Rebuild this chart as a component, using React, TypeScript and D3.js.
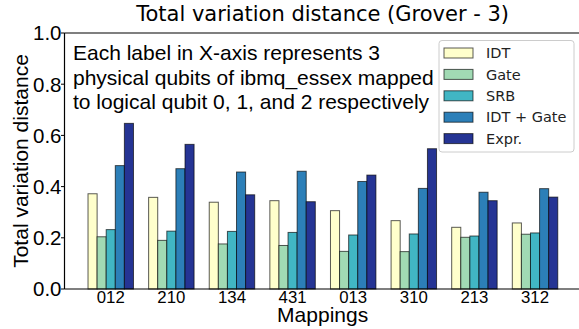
import React, { useEffect, useRef } from "react";
import * as d3 from "d3";

const mappings = ["012", "210", "134", "431", "013", "310", "213", "312"];
const seriesNames = ["IDT", "Gate", "SRB", "IDT + Gate", "Expr."];
const colors = ["#ffffcc", "#a1dab4", "#41b6c4", "#2c7fb8", "#253494"];

const idt = [0.372, 0.358, 0.339, 0.345, 0.306, 0.267, 0.241, 0.258];
const gate = [0.204, 0.19, 0.176, 0.17, 0.147, 0.146, 0.202, 0.214];
const srb = [0.232, 0.226, 0.225, 0.221, 0.211, 0.215, 0.207, 0.219];
const idtGate = [0.482, 0.47, 0.457, 0.46, 0.42, 0.393, 0.378, 0.392];
const expr = [0.647, 0.565, 0.368, 0.341, 0.445, 0.548, 0.345, 0.359];

const yTicks = [0, 0.2, 0.4, 0.6, 0.8, 1.0];

const note = [
  "Each label in X-axis represents 3",
  "physical qubits of ibmq_essex mapped",
  "to logical qubit 0, 1, and 2 respectively",
];

const W = 579;
const H = 329;
const arial = "'Liberation Sans', Arial, sans-serif";
const dejavu = "'DejaVu Sans', sans-serif";

const App = () => {
  const ref = useRef<SVGSVGElement>(null);

  useEffect(() => {
    document.body.style.margin = "0";
    const svg = d3.select(ref.current);
    svg.selectAll("*").remove();

    const left = 64.5;
    const top = 33;
    const bottom = 289;
    const right = 580.8;

    const x = d3.scaleLinear().domain([-0.763, 7.755]).range([left, right]);
    const y = d3.scaleLinear().domain([0, 1]).range([bottom, top]);
    const barW = 0.15;

    const series = [idt, gate, srb, idtGate, expr];

    // bars, five per mapping
    series.forEach((vals, s) => {
      svg
        .append("g")
        .selectAll("rect")
        .data(vals)
        .enter()
        .append("rect")
        .attr("x", (d, i) => x(i + (s - 2.5) * barW))
        .attr("y", (d) => y(d))
        .attr("width", x(barW) - x(0))
        .attr("height", (d) => y(0) - y(d))
        .attr("fill", colors[s])
        .attr("stroke", "#000")
        .attr("stroke-opacity", 0.65)
        .attr("stroke-width", 1);
    });

    // spines
    svg.append("line").attr("x1", left).attr("x2", left).attr("y1", top).attr("y2", bottom)
      .attr("stroke", "#000").attr("stroke-width", 1.2);
    svg.append("line").attr("x1", left).attr("x2", W).attr("y1", top).attr("y2", top)
      .attr("stroke", "#000").attr("stroke-width", 1.2);
    svg.append("line").attr("x1", left).attr("x2", W).attr("y1", bottom).attr("y2", bottom)
      .attr("stroke", "#000").attr("stroke-width", 1.2);

    // y ticks
    const yg = svg.append("g");
    yTicks.forEach((t) => {
      yg.append("line").attr("x1", left - 3.5).attr("x2", left).attr("y1", y(t)).attr("y2", y(t))
        .attr("stroke", "#000").attr("stroke-width", 1);
      yg.append("text")
        .attr("x", left - 3)
        .attr("y", y(t))
        .attr("dy", "0.36em")
        .attr("text-anchor", "end")
        .attr("font-family", arial)
        .attr("font-size", 20.5)
        .text(t.toFixed(1));
    });

    // x tick labels
    svg.append("g").selectAll("text")
      .data(mappings)
      .enter()
      .append("text")
      .attr("x", (d, i) => x(i))
      .attr("y", 303)
      .attr("text-anchor", "middle")
      .attr("font-family", arial)
      .attr("font-size", 16.8)
      .text((d) => d);

    // axis labels
    svg.append("text")
      .attr("x", (left + right) / 2)
      .attr("y", 322)
      .attr("text-anchor", "middle")
      .attr("font-family", arial)
      .attr("font-size", 21)
      .text("Mappings");

    svg.append("text")
      .attr("transform", `translate(27.5,${(top + bottom) / 2}) rotate(-90)`)
      .attr("text-anchor", "middle")
      .attr("font-family", arial)
      .attr("font-size", 21)
      .text("Total variation distance");

    // title
    svg.append("text")
      .attr("x", (left + right) / 2)
      .attr("y", 21)
      .attr("text-anchor", "middle")
      .attr("font-family", dejavu)
      .attr("font-size", 21)
      .text("Total variation distance (Grover - 3)");

    // annotation
    svg.append("g").selectAll("text")
      .data(note)
      .enter()
      .append("text")
      .attr("x", 73)
      .attr("y", (d, i) => 60 + i * 24.5)
      .attr("font-family", arial)
      .attr("font-size", 21)
      .text((d) => d);

    // legend
    const legend = svg.append("g");
    legend.append("rect")
      .attr("x", 439).attr("y", 40.5).attr("width", 135).attr("height", 111.5)
      .attr("rx", 3)
      .attr("fill", "#fff").attr("fill-opacity", 0.8)
      .attr("stroke", "#ccc").attr("stroke-width", 1);
    seriesNames.forEach((name, i) => {
      const cy = 53 + i * 21.4;
      legend.append("rect")
        .attr("x", 444).attr("y", cy - 5).attr("width", 29).attr("height", 10)
        .attr("fill", colors[i])
        .attr("stroke", "#000").attr("stroke-opacity", 0.65).attr("stroke-width", 1);
      legend.append("text")
        .attr("x", 486).attr("y", cy)
        .attr("dy", "0.36em")
        .attr("font-family", dejavu)
        .attr("font-size", 14.5)
        .attr("fill", "#222")
        .text(name);
    });
  }, []);

  return <svg ref={ref} width={W} height={H} style={{ display: "block" }} />;
};

export default App;
